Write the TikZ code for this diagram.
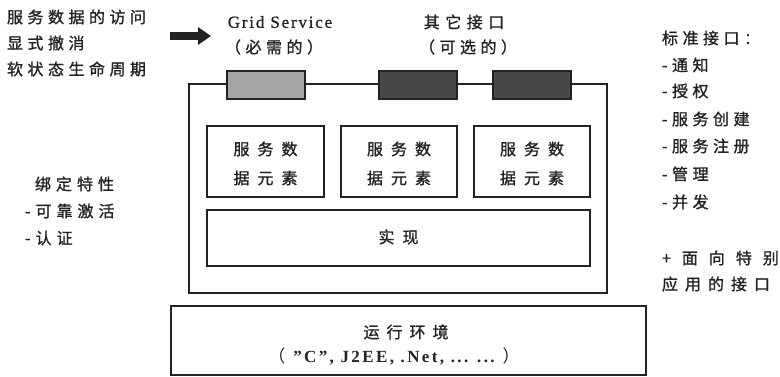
\documentclass[tikz,border=0pt]{standalone}
\usepackage{fontspec}
\usetikzlibrary{arrows.meta}
\setmainfont{Liberation Serif}
\newfontfamily\cjk{Noto Sans CJK SC}[FakeBold=1.2]
\newfontfamily\cjklight{Noto Sans CJK SC}
\newfontfamily\serifmed{Liberation Serif}[FakeBold=0.9]
\ExplSyntaxOn
\NewDocumentCommand\spc{O{4.5pt}m}{\tl_map_inline:nn{#2}{##1\hspace{#1}}\unskip}
\ExplSyntaxOff
\definecolor{ink}{RGB}{35,35,35}
\definecolor{lightif}{RGB}{165,165,165}
\definecolor{darkif}{RGB}{72,72,72}
\begin{document}
\begin{tikzpicture}[x=1pt,y=-1pt,
  ctxt/.style={font=\cjk\fontsize{16}{16}\selectfont, inner sep=0pt, outer sep=0pt, text=ink},
  ltxt/.style={font=\serifmed\fontsize{17}{17}\selectfont, inner sep=0pt, outer sep=0pt, text=ink},
  frame/.style={draw=ink, line width=1.4pt, inner sep=0pt, outer sep=0pt, anchor=north west},
  ifbox/.style={draw=ink, line width=1.1pt, inner sep=0pt, outer sep=0pt, anchor=north west,
                minimum width=78pt, minimum height=28pt},
]
\path[use as bounding box, fill=white] (0,0) rectangle (780,377);

% main container and interfaces
\node (main) [frame, minimum width=418pt, minimum height=209pt] at (189,84) {};
\node (ifgrid) [ifbox, fill=lightif] at (227,71) {};
\node (ifoth1) [ifbox, fill=darkif] at (379,71) {};
\node (ifoth2) [ifbox, fill=darkif] at (493,71) {};

% service data elements
\node (sde1) [frame, line width=1.2pt, minimum width=117pt, minimum height=71pt] at (207,126) {};
\node (sde2) [frame, line width=1.2pt, minimum width=116pt, minimum height=71pt] at (341,126) {};
\node (sde3) [frame, line width=1.2pt, minimum width=116pt, minimum height=71pt] at (474,126) {};
\foreach \b in {sde1,sde2,sde3}{
  \node (\b a) [ctxt] at ([yshift=12.5pt]\b.center) {\spc[8pt]{服务数}};
  \node (\b b) [ctxt] at ([yshift=-16.5pt]\b.center) {\spc[8pt]{据元素}};
}
\node (impl) [frame, line width=1.2pt, minimum width=383pt, minimum height=56pt] at (207,210) {};
\node (impltxt) [ctxt] at (398.5,237) {\spc[8pt]{实现}};

% runtime
\node (rt) [frame, line width=1.3pt, minimum width=475pt, minimum height=69pt] at (171,306) {};
\node (rt1) [ctxt] at (406,332) {\spc[7pt]{运行环境}};
\node (rt2) [ltxt, font=\fontsize{17}{17}\selectfont\bfseries\addfontfeatures{LetterSpace=14}] at (394,357)
  {{\cjklight\mdseries （}\hspace{8pt}”C”, J2EE, .Net, ... ...\hspace{8pt}{\cjklight\mdseries ）}};

% arrow
\coordinate (arrS) at (170,36);
\coordinate (arrE) at (211,36);
\draw[ink, line width=8pt, -{Triangle[length=13pt,width=17pt]}] (arrS) -- (arrE);

% header labels
\node (gs) [ltxt] at (280,22) {\spc[1.8pt]{Grid}\hspace{6pt}\spc[1.8pt]{Service}};
\node (gsreq) [ctxt] at (274,47) {\spc{（必需的）}};
\node (oth) [ctxt] at (464,22) {\spc[5.5pt]{其它接口}};
\node (othopt) [ctxt] at (468,47) {\spc{（可选的）}};

% left top
\node (l1) [ctxt, anchor=west] at (7,17) {\spc{服务数据的访问}};
\node (l2) [ctxt, anchor=west] at (7,43) {\spc{显式撤消}};
\node (l3) [ctxt, anchor=west] at (7,69) {\spc{软状态生命周期}};

% left middle
\node (b1) [ctxt, anchor=west] at (35,184) {\spc[5pt]{绑定特性}};
\node (b2) [ctxt, anchor=west] at (25,211) {\spc[5pt]{-可靠激活}};
\node (b3) [ctxt, anchor=west] at (25,238) {\spc[5pt]{-认证}};

% right
\node (r0) [ctxt, anchor=west] at (662,38) {\spc{标准接口：}};
\node (r1) [ctxt, anchor=west] at (662,65) {\spc{-通知}};
\node (r2) [ctxt, anchor=west] at (662,91) {\spc{-授权}};
\node (r3) [ctxt, anchor=west] at (662,119) {\spc{-服务创建}};
\node (r4) [ctxt, anchor=west] at (662,146) {\spc{-服务注册}};
\node (r5) [ctxt, anchor=west] at (662,174) {\spc{-管理}};
\node (r6) [ctxt, anchor=west] at (662,202) {\spc{-并发}};
\node (r7) [ctxt, anchor=west] at (662,258) {\spc[11pt]{+面向特别}};
\node (r8) [ctxt, anchor=west] at (662,284) {\spc[7pt]{应用的接口}};
\end{tikzpicture}
\end{document}
